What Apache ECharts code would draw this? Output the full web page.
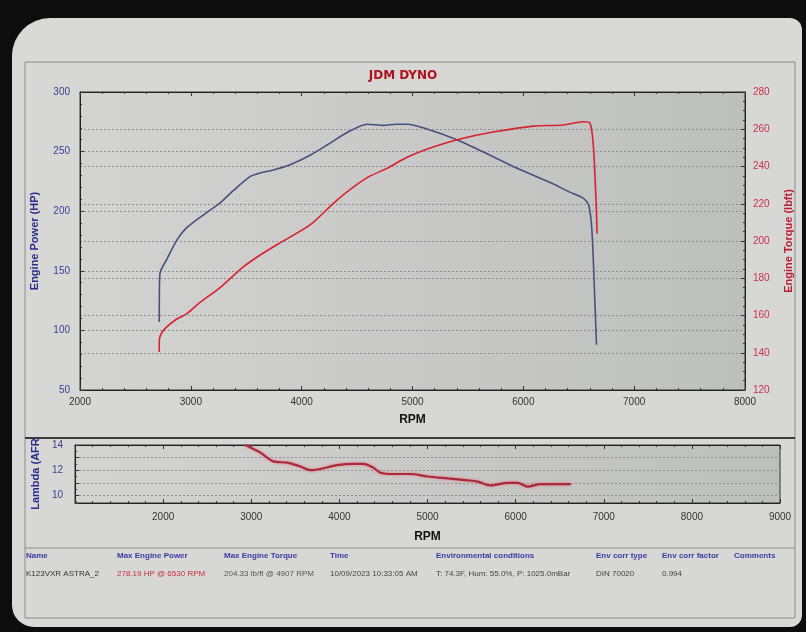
<!DOCTYPE html>
<html>
<head>
<meta charset="utf-8">
<script src="https://cdn.jsdelivr.net/npm/echarts@6/dist/echarts.min.js"></script>
<style>
html,body{margin:0;padding:0;background:#0d0d0d;}
#c{width:806px;height:632px;}
</style>
</head>
<body>
<div id="c"></div>
<script>
// ---- data ----
const powerRpm = [2715, 2716, 2722, 2785, 2875, 2960, 3056, 3160, 3264, 3380, 3534, 3625, 3760, 3895, 4076, 4229, 4410, 4590, 4735, 4850, 4951, 5130, 5400, 5700, 5944, 6242, 6420, 6540, 6590, 6620, 6645, 6660];
const powerHp  = [107, 130, 148, 160, 176, 186, 193, 200, 207, 217, 229, 232, 235, 239, 247, 255.5, 266, 273, 272, 273, 273, 269, 260, 247, 236, 224, 216, 211, 205, 182, 125, 88];

const torqueRpm  = [2715, 2716, 2740, 2785, 2870, 2965, 3083, 3264, 3471, 3640, 3805, 4076, 4319, 4590, 4771, 4951, 5186, 5430, 5727, 6088, 6360, 6540, 6600, 6630, 6650, 6660, 6665];
const torqueLbft = [140.4, 147, 151, 154, 158, 161, 167, 175, 186, 193, 199, 208.6, 222, 234, 239, 245, 250.5, 254.8, 258.5, 261.7, 262.3, 264, 263.4, 252.6, 230, 215, 204];

const afrRpm   = [2932, 3102, 3250, 3409, 3557, 3670, 3784, 3977, 4159, 4272, 4386, 4466, 4614, 4807, 5000, 5230, 5455, 5568, 5716, 5909, 6023, 6136, 6284, 6450, 6625];
const afrValue = [14.0, 13.4, 12.7, 12.6, 12.3, 12.0, 12.1, 12.4, 12.5, 12.5, 12.2, 11.8, 11.7, 11.7, 11.5, 11.35, 11.2, 11.1, 10.8, 11.0, 11.0, 10.7, 10.9, 10.9, 10.9];

const tableHeaders = ['Name', 'Max Engine Power', 'Max Engine Torque', 'Time', 'Environmental conditions', 'Env corr type', 'Env corr factor', 'Comments'];
const tableValues  = ['K123VXR ASTRA_2', '278.19 HP @ 6530 RPM', '204.33 lb/ft @ 4907 RPM', '10/09/2023 10:33:05 AM', 'T: 74.3F, Hum: 55.0%, P: 1025.0mBar', 'DIN 70020', '0.994', ''];

// ---- layout / style ----
const FONT = '"Liberation Sans", Arial, sans-serif';
const colX = [26, 117, 224, 330, 436, 596, 662, 734];
const valColors = ['#333', '#c8303c', '#555', '#444', '#444', '#444', '#444', '#444'];

const pair = (xs, ys) => xs.map((x, i) => [x, ys[i]]);

const plotBg = {type:'linear', x:0, y:0, x2:1, y2:0,
  colorStops:[{offset:0, color:'#d3d3d2'}, {offset:1, color:'#bdbfbd'}]};

const gfx = [
  {type:'rect', z:-10, shape:{x:12, y:18, width:790, height:609, r:[38, 12, 12, 22]}, style:{fill:'#d9d9d8'}},
  {type:'rect', z:-9, shape:{x:25, y:62, width:770, height:556}, style:{fill:'#d7d7d6', stroke:'#8c8c8c', lineWidth:1}},
  {type:'line', z:-8, shape:{x1:25, y1:438, x2:795, y2:438}, style:{stroke:'#3a3a3a', lineWidth:2}},
  {type:'line', z:-8, shape:{x1:25, y1:548, x2:795, y2:548}, style:{stroke:'#8c8c8c', lineWidth:1}},
  {type:'text', left:'center', top:70, style:{text:'JDM DYNO', fill:'#b0121c', font:'bold 12px "DejaVu Sans", sans-serif'}}
];
tableHeaders.forEach((t, i) => gfx.push({type:'text', x:colX[i], y:552,
  style:{text:t, fill:'#3a3aa0', font:'bold 8px ' + FONT}}));
tableValues.forEach((t, i) => gfx.push({type:'text', x:colX[i], y:570,
  style:{text:t, fill:valColors[i], font:'8px ' + FONT}}));

const plain = v => String(v);

const chart = echarts.init(document.getElementById('c'));
chart.setOption({
  backgroundColor:'#0d0d0d',
  animation:false,
  graphic:gfx,
  grid:[
    {left:80, right:61, top:92, height:298, show:true, backgroundColor:plotBg, borderColor:'#333', borderWidth:1},
    {left:75, right:26, top:445, height:58, show:true, backgroundColor:plotBg, borderColor:'#333', borderWidth:1}
  ],
  xAxis:[
    {gridIndex:0, type:'value', min:2000, max:8000, interval:1000,
     axisLine:{lineStyle:{color:'#222'}},
     axisTick:{inside:true, length:4, lineStyle:{color:'#333'}},
     minorTick:{show:true, splitNumber:5, length:2, lineStyle:{color:'#333'}},
     splitLine:{show:false},
     axisLabel:{color:'#333', fontSize:10, fontFamily:FONT, margin:7, formatter:plain},
     name:'RPM', nameLocation:'middle', nameGap:24,
     nameTextStyle:{color:'#111', fontWeight:'bold', fontSize:12, fontFamily:FONT}},
    {gridIndex:0, type:'value', position:'top', min:2000, max:8000, interval:1000,
     axisLine:{lineStyle:{color:'#222'}},
     axisTick:{inside:true, length:4, lineStyle:{color:'#333'}},
     minorTick:{show:true, splitNumber:5, length:2, lineStyle:{color:'#333'}},
     splitLine:{show:false}, axisLabel:{show:false}},
    {gridIndex:1, type:'value', min:1000, max:9000, interval:1000,
     axisLine:{lineStyle:{color:'#222'}},
     axisTick:{inside:true, length:4, lineStyle:{color:'#333'}},
     minorTick:{show:true, splitNumber:5, length:2, lineStyle:{color:'#333'}},
     splitLine:{show:false},
     axisLabel:{color:'#333', fontSize:10, fontFamily:FONT, margin:9,
       formatter:v => (v === 1000 ? '' : String(v))},
     name:'RPM', nameLocation:'middle', nameGap:28,
     nameTextStyle:{color:'#111', fontWeight:'bold', fontSize:12, fontFamily:FONT}},
    {gridIndex:1, type:'value', position:'top', min:1000, max:9000, interval:1000,
     axisLine:{lineStyle:{color:'#222'}},
     axisTick:{inside:true, length:4, lineStyle:{color:'#333'}},
     minorTick:{show:true, splitNumber:5, length:2, lineStyle:{color:'#333'}},
     splitLine:{show:false}, axisLabel:{show:false}}
  ],
  yAxis:[
    {gridIndex:0, type:'value', min:50, max:300, interval:50, position:'left',
     axisLine:{show:true, lineStyle:{color:'#222'}},
     axisTick:{show:true, inside:true, length:4, lineStyle:{color:'#333'}},
     minorTick:{show:true, splitNumber:5, length:2, lineStyle:{color:'#333'}},
     splitLine:{show:true, lineStyle:{color:'#8e8e8e', type:[2,2], width:1}},
     axisLabel:{color:'#3d3d8e', fontSize:10, fontFamily:FONT, margin:10, formatter:plain},
     name:'Engine Power (HP)', nameLocation:'middle', nameGap:40,
     nameTextStyle:{color:'#2c2c8c', fontWeight:'bold', fontSize:11, fontFamily:FONT}},
    {gridIndex:0, type:'value', min:120, max:280, interval:20, position:'right',
     axisLine:{show:true, lineStyle:{color:'#222'}},
     axisTick:{show:true, inside:true, length:4, lineStyle:{color:'#333'}},
     minorTick:{show:true, splitNumber:4, length:2, lineStyle:{color:'#333'}},
     splitLine:{show:true, lineStyle:{color:'#8e8e8e', type:[2,2], width:1}},
     axisLabel:{color:'#c8334a', fontSize:10, fontFamily:FONT, margin:8, formatter:plain},
     name:'Engine Torque (lbft)', nameLocation:'middle', nameGap:38, nameRotate:90,
     nameTextStyle:{color:'#c01c30', fontWeight:'bold', fontSize:11, fontFamily:FONT}},
    {gridIndex:1, type:'value', min:9.4, max:14, position:'left',
     axisLine:{show:true, lineStyle:{color:'#222'}},
     axisTick:{show:true, inside:true, length:4, lineStyle:{color:'#333'}},
     minorTick:{show:true, splitNumber:2, length:2, lineStyle:{color:'#333'}},
     splitLine:{show:true, lineStyle:{color:'#8e8e8e', type:[2,2], width:1}},
     axisLabel:{color:'#3d3d8e', fontSize:10, fontFamily:FONT, margin:12,
       formatter:v => (Math.abs(v % 2) < 1e-6 ? String(v) : '')},
     name:'Lambda (AFR', nameLocation:'middle', nameGap:34,
     nameTextStyle:{color:'#2c2c8c', fontWeight:'bold', fontSize:11, fontFamily:FONT}}
  ],
  series:[
    {type:'line', xAxisIndex:0, yAxisIndex:0, data:pair(powerRpm, powerHp), smooth:0.25,
     symbol:'none', lineStyle:{color:'#4b4f7c', width:1.6}, z:3},
    {type:'line', xAxisIndex:0, yAxisIndex:1, data:pair(torqueRpm, torqueLbft), smooth:0.25,
     symbol:'none', lineStyle:{color:'#d8222e', width:1.6}, z:4},
    {type:'line', xAxisIndex:2, yAxisIndex:2, data:pair(afrRpm, afrValue), smooth:0.3,
     symbol:'none', lineStyle:{color:'#a82a3c', width:2.2, shadowColor:'rgba(240,100,110,0.8)', shadowBlur:3}, z:3}
  ]
});
</script>
</body>
</html>
